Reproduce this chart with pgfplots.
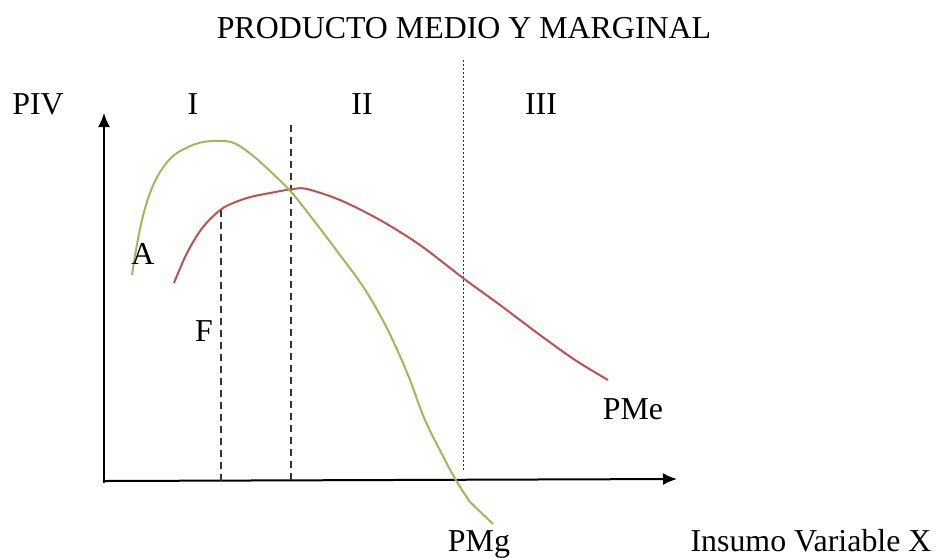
\documentclass[border=0pt]{standalone}
\usepackage{pgfplots}
\pgfplotsset{compat=1.18}
\usetikzlibrary{arrows.meta}
\usepackage{fontspec}
\setmainfont{Liberation Serif}
\definecolor{pmg}{HTML}{9BBB59}
\definecolor{pme}{HTML}{C0504D}
\tikzset{lbl/.style={font=\fontsize{16}{19}\selectfont, inner sep=0pt, anchor=base}}
\begin{document}
\begin{tikzpicture}
\begin{axis}[
  width=470bp, height=278bp, scale only axis, hide axis, clip=false,
  xmin=0, xmax=940, ymin=0, ymax=556, y dir=reverse,
]
\path (axis cs:0,0) -- (axis cs:940,556);
% axes
\addplot[black, line width=1bp, -{Latex[length=7bp,width=6bp]}] coordinates {(104,483) (104,113)};
\addplot[black, line width=1bp, -{Latex[length=7bp,width=6bp]}] coordinates {(103,481) (677,479)};
% guide lines
\addplot[black!80, line width=0.7bp, dash pattern=on 3.5bp off 2.5bp] coordinates {(221,210) (221,484)};
\addplot[black!80, line width=0.7bp, dash pattern=on 3.5bp off 2.5bp] coordinates {(291,125) (291,484)};
\addplot[black!80, line width=0.5bp, dash pattern=on 1bp off 1bp] coordinates {(463,60) (463,470)};
% PMe
\addplot[pme, line width=1bp, smooth] coordinates {
 (174,283) (187,253) (203,227) (223,208) (247,198) (270,193) (293,189) (307,189)
 (340,200) (380,220) (420,245) (463,278) (500,305) (540,335) (575,360) (608,380)};
% PMg
\addplot[pmg, line width=1bp, smooth, tension=0.6] coordinates {
 (132,275) (136,250) (142,220) (150,193) (160,172) (172,157) (186,148) (203,142) (223,141)
 (236,144) (252,155) (270,171) (292,193) (315,222) (340,255) (362,285) (380,315) (395,345)
 (410,380) (425,420) (445,460) (457,482) (470,502)};
\addplot[pmg, line width=1bp] coordinates {(470,502) (493,524)};
% texts
\node[lbl] at (axis cs:464,39) {PRODUCTO MEDIO Y MARGINAL};
\node[lbl] at (axis cs:38,114) {PIV};
\node[lbl] at (axis cs:193,114) {I};
\node[lbl] at (axis cs:362,114) {II};
\node[lbl] at (axis cs:541,114) {III};
\node[lbl] at (axis cs:143,264) {A};
\node[lbl] at (axis cs:204,341) {F};
\node[lbl] at (axis cs:633,419) {PMe};
\node[lbl] at (axis cs:479,551) {PMg};
\node[lbl] at (axis cs:811,551) {Insumo Variable X};
\end{axis}
\end{tikzpicture}
\end{document}
